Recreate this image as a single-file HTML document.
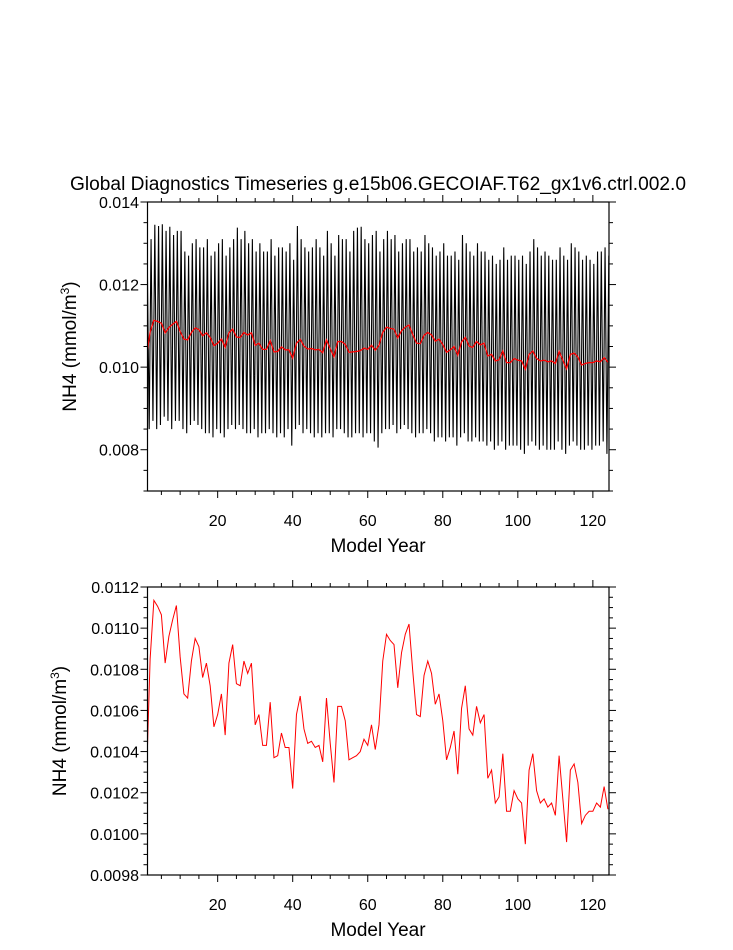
<!DOCTYPE html>
<html><head><meta charset="utf-8">
<style>
html,body{margin:0;padding:0;background:#fff;}
body{width:733px;height:945px;overflow:hidden;font-family:"Liberation Sans",Arial,sans-serif;}
svg text{font-family:"Liberation Sans",Arial,sans-serif;fill:#000;}
</style></head>
<body>
<svg id="chart" width="733" height="945" viewBox="0 0 733 945">
<defs>
<clipPath id="clipTop"><rect x="147.5" y="202" width="461.5" height="289"/></clipPath>
<clipPath id="clipBot"><rect x="147.5" y="587" width="461.5" height="288"/></clipPath>
</defs>
<text x="378" y="190" font-size="19" text-anchor="middle" textLength="616" lengthAdjust="spacingAndGlyphs">Global Diagnostics Timeseries g.e15b06.GECOIAF.T62_gx1v6.ctrl.002.0</text>
<g id="top"></g>
<g id="bot"></g>
</svg>
<script>
// annual mean NH4 (years 1..124)
const years = Array.from({length:124},(_,i)=>i+1);
const annualMean = [
0.01025,0.01085,0.011135,0.011106,0.011065,0.01083,0.01096,0.01104,0.01111,0.01086,
0.01068,0.01066,0.01084,0.01095,0.01091,0.01076,0.01083,0.01072,0.01052,0.01058,
0.01068,0.01048,0.01083,0.01092,0.01073,0.01072,0.01084,0.01078,0.01083,0.01053,
0.01058,0.01043,0.01043,0.01064,0.01037,0.01038,0.01049,0.01042,0.01042,0.01022,
0.01058,0.01067,0.01051,0.01044,0.01045,0.01042,0.01043,0.01035,0.01066,0.01044,
0.01025,0.01062,0.01062,0.01055,0.01036,0.01037,0.01038,0.0104,0.01046,0.01043,
0.01053,0.01041,0.01053,0.01084,0.01097,0.01094,0.01092,0.01071,0.01088,0.01097,
0.01102,0.01079,0.01058,0.01057,0.01077,0.01084,0.01078,0.01063,0.01068,0.01055,
0.01036,0.01042,0.0105,0.01029,0.01061,0.01072,0.01051,0.01048,0.01062,0.01054,
0.01058,0.01027,0.01031,0.01015,0.01018,0.01039,0.01011,0.01011,0.01021,0.01017,
0.01015,0.00995,0.01031,0.01039,0.01021,0.01015,0.01017,0.01013,0.01015,0.01009,
0.01038,0.01017,0.00996,0.01031,0.01034,0.01025,0.01005,0.01009,0.01011,0.01011,
0.01015,0.01013,0.01023,0.01012];
// estimated annual maxima / minima of the monthly series
const monthlyMax = [
0.0125,0.0131,0.01345,0.01342,0.01346,0.0133,0.0134,0.0132,0.0133,0.0133,
0.0128,0.0127,0.0130,0.0131,0.0129,0.0129,0.0131,0.0127,0.0128,0.0130,
0.0131,0.0127,0.0129,0.0131,0.01338,0.0131,0.0133,0.0130,0.0131,0.0128,
0.0130,0.0128,0.0128,0.0131,0.0127,0.0129,0.0129,0.0128,0.0130,0.0126,
0.01342,0.0131,0.0129,0.0128,0.0129,0.0131,0.0129,0.0127,0.0133,0.0130,
0.0127,0.0132,0.0131,0.0131,0.0128,0.0133,0.01338,0.0134,0.0131,0.0130,
0.0132,0.0133,0.0128,0.0131,0.0133,0.0131,0.0132,0.0128,0.0130,0.0131,
0.0131,0.0128,0.0129,0.0128,0.0132,0.0130,0.0129,0.0127,0.0128,0.0130,
0.0127,0.0127,0.0128,0.0126,0.0132,0.0130,0.0128,0.0127,0.0130,0.0128,
0.0128,0.0126,0.0127,0.0125,0.0126,0.0129,0.0126,0.0127,0.0127,0.0126,
0.0127,0.0125,0.0128,0.0131,0.0129,0.0127,0.0128,0.0127,0.0126,0.0126,
0.0129,0.0127,0.0126,0.0130,0.0129,0.0128,0.0126,0.0127,0.0126,0.0125,
0.0128,0.0128,0.0129,0.0127];
const monthlyMin = [
0.0082,0.0085,0.0087,0.0085,0.0086,0.0088,0.0087,0.0085,0.0087,0.0087,
0.0085,0.0084,0.0086,0.0087,0.0086,0.0085,0.0084,0.0084,0.0083,0.0085,
0.0084,0.0083,0.0085,0.0086,0.0085,0.0086,0.0085,0.0084,0.0084,0.0085,
0.0083,0.0084,0.0084,0.0085,0.0084,0.0083,0.0084,0.0083,0.0085,0.0081,
0.0085,0.0086,0.0084,0.0085,0.0084,0.0083,0.0084,0.0083,0.0084,0.0084,
0.0083,0.0085,0.0085,0.0084,0.0083,0.0083,0.0084,0.0084,0.0083,0.0084,
0.0084,0.0082,0.00805,0.0084,0.0085,0.0085,0.0086,0.0084,0.0085,0.0086,
0.0085,0.0084,0.0083,0.0084,0.0084,0.0085,0.0084,0.0082,0.0083,0.0083,
0.0082,0.0083,0.0083,0.0081,0.0083,0.0084,0.0082,0.0082,0.0083,0.0082,
0.0082,0.0081,0.0082,0.0080,0.0081,0.0082,0.0080,0.0081,0.0081,0.0081,
0.0080,0.0079,0.0081,0.0082,0.0081,0.0080,0.0081,0.0080,0.0080,0.0080,
0.0082,0.0080,0.0079,0.0081,0.0082,0.0081,0.0080,0.0080,0.0081,0.0080,
0.0081,0.0081,0.0082,0.0079];
const xTicks = [20,40,60,80,100,120];
const topYTicks = [0.008,0.010,0.012,0.014];
const topYLabels = ["0.008","0.010","0.012","0.014"];
const botYTicks = [0.0098,0.0100,0.0102,0.0104,0.0106,0.0108,0.0110,0.0112];
const botYLabels = ["0.0098","0.0100","0.0102","0.0104","0.0106","0.0108","0.0110","0.0112"];

const NS="http://www.w3.org/2000/svg";
const L=147.5,R=609,XMIN=1.3,XMAX=124.3;
function xs(v){return L+(v-XMIN)/(XMAX-XMIN)*(R-L);}
function mk(tag,attrs,parent){const e=document.createElementNS(NS,tag);for(const k in attrs)e.setAttribute(k,attrs[k]);parent.appendChild(e);return e;}

function panel(g,T,B,ymin,ymax,yt,yl,minorStep,clip,labelY,isTop){
  const ys=v=>B-(v-ymin)/(ymax-ymin)*(B-T);
  if(isTop){
    let pts=[];
    years.forEach((yr,i)=>{pts.push(xs(yr-0.25)+","+ys(monthlyMin[i]));pts.push(xs(yr+0.25)+","+ys(monthlyMax[i]));});
    const p=mk("polyline",{points:pts.join(" "),fill:"none",stroke:"#000","stroke-width":"1.1","clip-path":clip},g);
    
    
  }
  const rp=mk("polyline",{points:years.map((yr,i)=>xs(yr)+","+ys(annualMean[i])).join(" "),fill:"none",stroke:"#ff0000","stroke-width":isTop?"1.3":"1","clip-path":clip},g);
  
  
  const f=mk("rect",{x:L,y:T,width:R-L,height:B-T,fill:"none",stroke:"#000","stroke-width":"1.2"},g);
  
  
  for(let v=5;v<=XMAX;v+=5){
    const maj=v%20===0, len=maj?7:4, x=xs(v);
    mk("line",{x1:x,x2:x,y1:B,y2:B+len,stroke:"#000","stroke-width":"1"},g);
    mk("line",{x1:x,x2:x,y1:T,y2:T-len,stroke:"#000","stroke-width":"1"},g);
  }
  xTicks.forEach(v=>{
    const t=mk("text",{x:xs(v),y:B+35,"font-size":"16","text-anchor":"middle"},g);
    t.textContent=v;
    
    
  });
  const n=Math.round((ymax-ymin)/minorStep);
  for(let i=0;i<=n;i++){
    const v=ymin+i*minorStep, y=ys(v);
    const maj=yt.some(t=>Math.abs(t-v)<minorStep/10), len=maj?7:4;
    mk("line",{x1:L,x2:L-len,y1:y,y2:y,stroke:"#000","stroke-width":"1"},g);
    mk("line",{x1:R,x2:R+len,y1:y,y2:y,stroke:"#000","stroke-width":"1"},g);
  }
  yt.forEach((v,i)=>{
    const t=mk("text",{x:139,y:ys(v)+6,"font-size":"16","text-anchor":"end"},g);
    t.textContent=yl[i];
    
    
  });
  const xt=mk("text",{x:378,y:B+61,"font-size":"19","text-anchor":"middle"},g);
  xt.textContent="Model Year";
  
  
  const yT=mk("text",{x:0,y:0,"font-size":"19","text-anchor":"middle",transform:"translate("+labelY+","+((T+B)/2)+") rotate(-90)"},g);
  yT.innerHTML='NH4 (mmol/m<tspan dy="-7" font-size="12">3</tspan><tspan dy="7">)</tspan>';
  
  
}
panel(document.getElementById("top"),202,491,0.007,0.014,topYTicks,topYLabels,0.0005,"url(#clipTop)",76,true);
panel(document.getElementById("bot"),587,875,0.0098,0.0112,botYTicks,botYLabels,0.00005,"url(#clipBot)",66,false);
</script>
</body></html>
